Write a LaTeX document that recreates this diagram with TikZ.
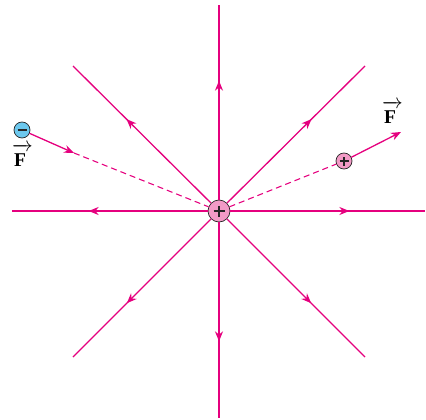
\documentclass[tikz,border=0pt]{standalone}
\usepackage{amsmath}
\usepackage{fontspec}
\setmainfont{Liberation Serif}
\usetikzlibrary{arrows.meta,decorations.markings}
\definecolor{mag}{HTML}{E5007E}
\definecolor{cpink}{HTML}{F29AC6}
\definecolor{cblue}{HTML}{6CC8EE}
\newcommand{\vecF}{$\overrightarrow{\rule{0pt}{15pt}\text{\bfseries F}\kern5pt}$}
\begin{document}
\begin{tikzpicture}[x=1pt,y=-1pt,
  field/.style={mag, line width=1.3pt, postaction={decorate},
    decoration={markings, mark=at position 119pt with {\arrow{Stealth[length=10pt,width=8pt]}}}},
  charge/.style={circle, draw=black!85, line width=0.7pt, inner sep=0pt},
  sign/.style={black!85, line width=1.3pt},
  force/.style={mag, line width=1.3pt, -{Stealth[length=10pt,width=8pt]}},
  guide/.style={mag, line width=1.1pt, dash pattern=on 6pt off 4pt},
  flabel/.style={inner sep=0pt, anchor=base west, font=\fontsize{19.5}{20}\selectfont}
]
\useasboundingbox (0,0) rectangle (426,420);
% field line end points
\coordinate (n) at (219,5);
\coordinate (s) at (219,418);
\coordinate (e) at (425,211);
\coordinate (w) at (12,211);
\coordinate (ne) at (365,66);
\coordinate (nw) at (73,66);
\coordinate (se) at (365,357);
\coordinate (sw) at (73,357);
% charges
\node[charge, minimum size=22pt, fill=cpink] (c) at (219,211) {};
\node[charge, minimum size=16pt, fill=cblue] (neg) at (22,130) {};
\node[charge, minimum size=16pt, fill=cpink] (pos) at (344,161) {};
\coordinate (fl) at (74,153);
\coordinate (fr) at (401,132);
% field lines
\foreach \p in {n,s,e,w,ne,nw,se,sw} \draw[field] (c) -- (\p);
% forces
\draw[guide] (fl) -- (c);
\draw[force] (neg) -- (fl);
\draw[guide] (c) -- (pos);
\draw[force] (pos) -- (fr);
% signs
\draw[sign, line width=1.5pt] ([xshift=-5.5pt]c.center) -- ([xshift=5.5pt]c.center);
\draw[sign, line width=1.5pt] ([yshift=-5.5pt]c.center) -- ([yshift=5.5pt]c.center);
\draw[sign] ([xshift=-4.5pt]pos.center) -- ([xshift=4.5pt]pos.center);
\draw[sign] ([yshift=-4.5pt]pos.center) -- ([yshift=4.5pt]pos.center);
\draw[sign] ([xshift=-4.5pt]neg.center) -- ([xshift=4.5pt]neg.center);
% labels
\node[flabel] (Fl) at (12,166) {\vecF};
\node[flabel] (Fr) at (382,123) {\vecF};
\end{tikzpicture}
\end{document}
